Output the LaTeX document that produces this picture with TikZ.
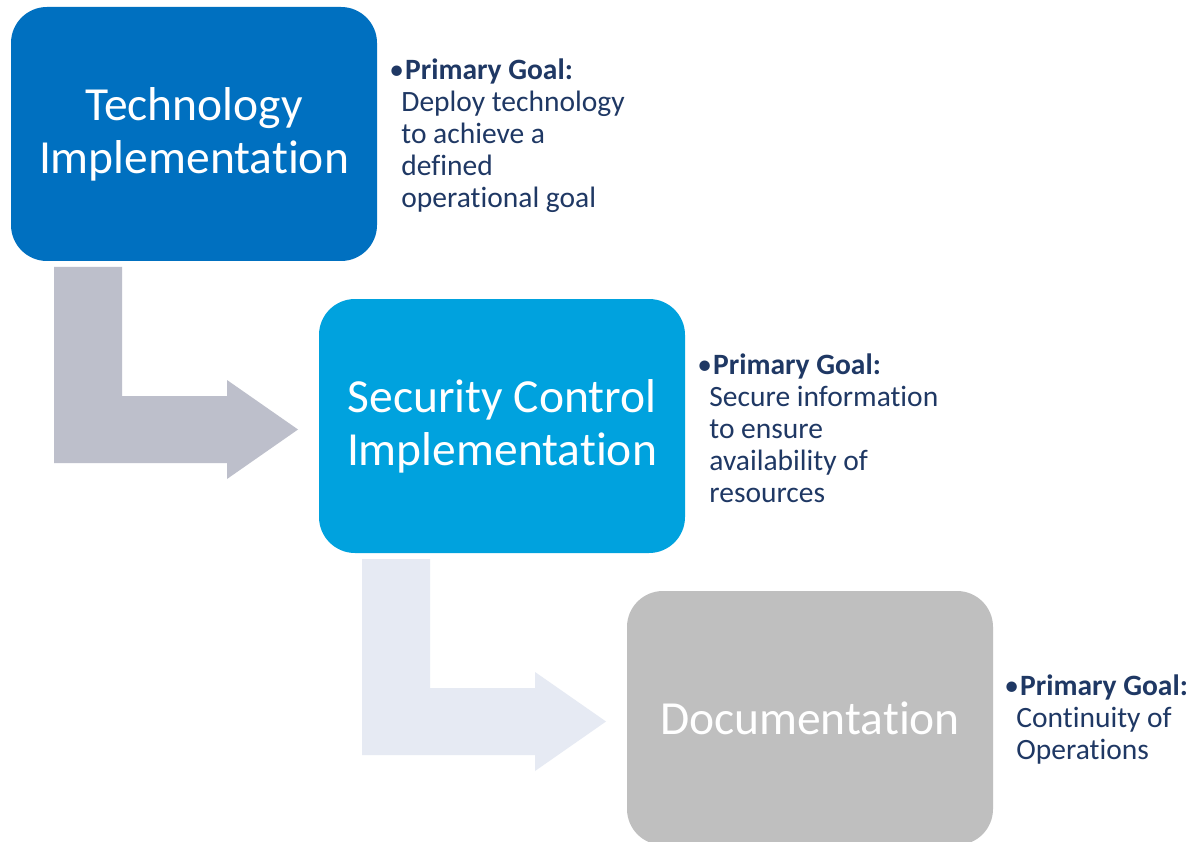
\documentclass[tikz,border=0pt]{standalone}
\usepackage{fontspec}
\setmainfont[Ligatures={NoCommon}]{Carlito}
\usetikzlibrary{calc}

\definecolor{techblue}{HTML}{0070C0}
\definecolor{secblue}{HTML}{00A2DE}
\definecolor{docgray}{HTML}{BFBFBF}
\definecolor{arrowone}{HTML}{BDBFCB}
\definecolor{arrowtwo}{HTML}{E6EAF3}
\definecolor{goalnavy}{HTML}{1F3864}

\tikzset{
  stagebox/.style={rounded corners=36pt, minimum width=366pt, minimum height=254pt,
    inner sep=0pt, text=white, align=center,
    font=\fontsize{47.5}{53}\selectfont},
  goaltext/.style={anchor=west, inner sep=0pt, align=left, text=goalnavy,
    font=\fontsize{29.5}{32}\selectfont},
}

% bent arrow: vertical stem from (x,y) down, then right into an arrowhead
\newcommand{\bentarrow}[3]{%
  \fill[#3] (#1,#2) -- ++(68,0) -- ++(0,129) -- ++(105,0) -- ++(0,-16)
    -- ++(71,49.5) -- ++(-71,49.5) -- ++(0,-16) -- ++(-173,0) -- cycle;}

% bullet with the gap before the heading
\newcommand{\goalhead}{•\hspace{1pt}\textbf{Primary Goal:}}

\begin{document}
\begin{tikzpicture}[x=1pt,y=-1pt]
  \clip (0,0) rectangle (1188,842);
  \fill[white] (0,0) rectangle (1188,842);

  % bent arrows between stages
  \bentarrow{54}{267}{arrowone}
  \bentarrow{362}{559}{arrowtwo}

  % stage boxes
  \node[stagebox, fill=techblue] (tech) at (194,134) {\raisebox{-3pt}{Technology}\\\raisebox{-3pt}{Implementation}};
  \node[stagebox, fill=secblue]  (sec)  at (502,426) {\raisebox{-3pt}{Security Control}\\\raisebox{-3pt}{Implementation}};
  \node[stagebox, fill=docgray]  (doc)  at (810,718) {Documentation};

  % goals
  \node[goaltext] (techgoal) at ($(tech.east)+(12,2)$)
    {\goalhead\\\hspace{12pt}Deploy technology\\\hspace{12pt}to achieve a\\\hspace{12pt}defined\\\hspace{12pt}operational goal};
  \node[goaltext] (secgoal) at ($(sec.east)+(12,2)$)
    {\goalhead\\\hspace{12pt}Secure information\\\hspace{12pt}to ensure\\\hspace{12pt}availability of\\\hspace{12pt}resources};
  \node[goaltext] (docgoal) at ($(doc.east)+(11,2)$)
    {\goalhead\\\hspace{12pt}Continuity of\\\hspace{12pt}Operations};
\end{tikzpicture}
\end{document}
